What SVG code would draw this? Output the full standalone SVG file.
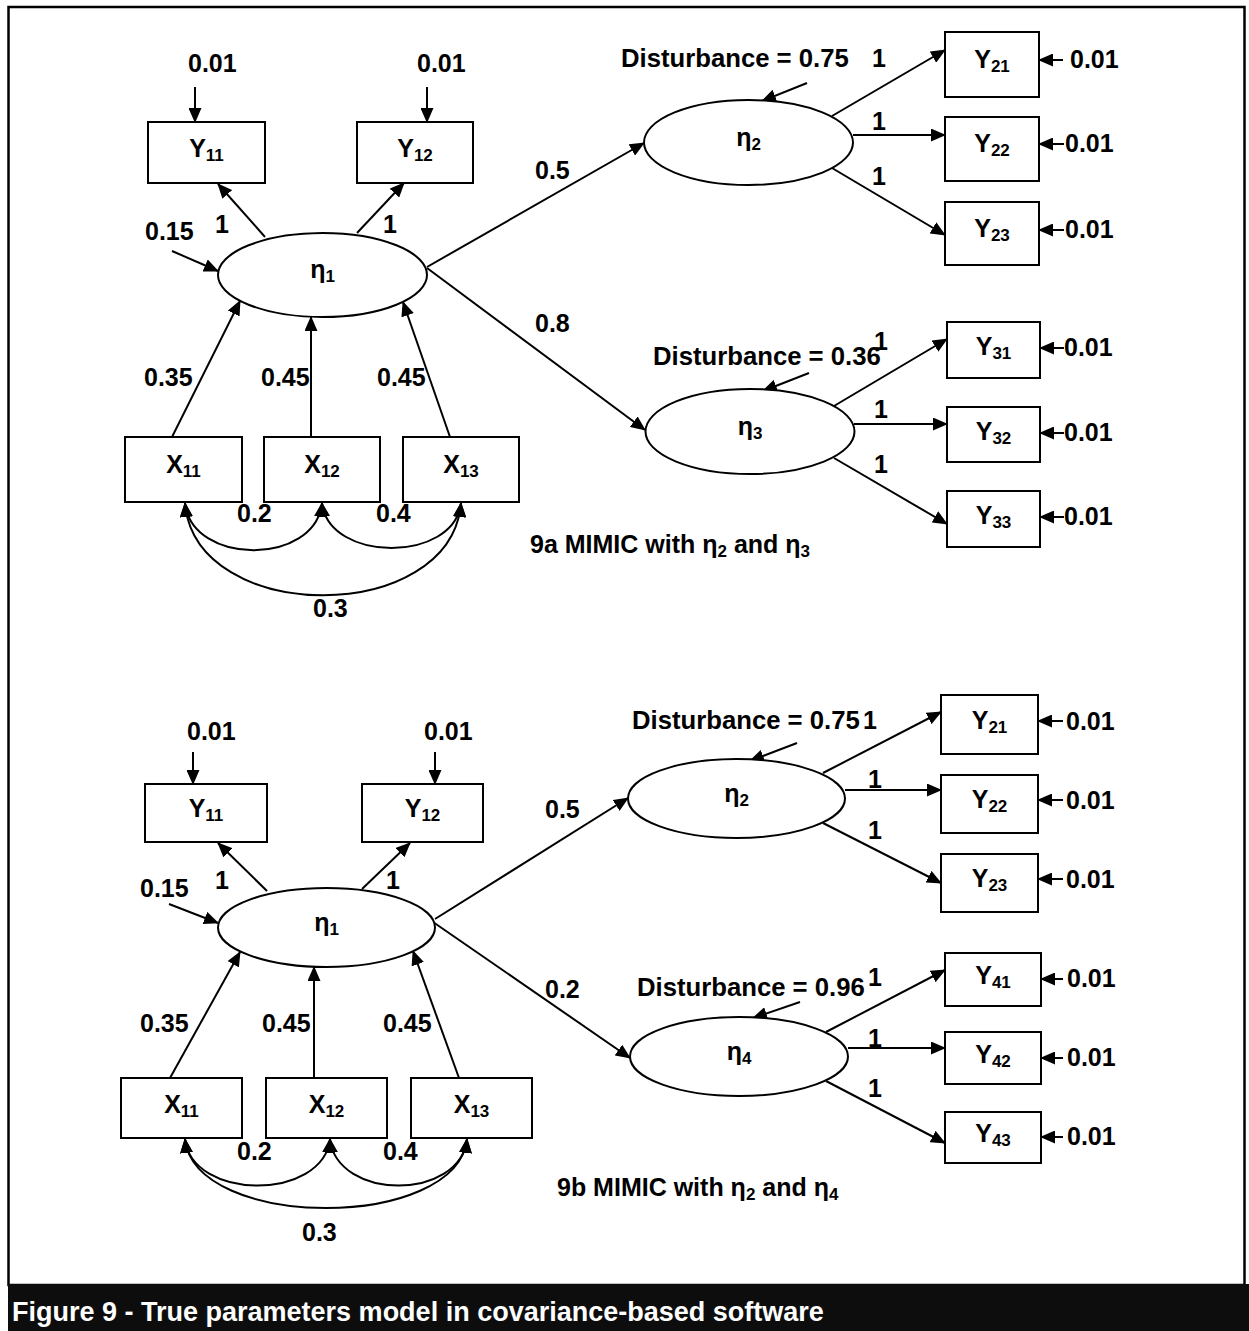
<svg xmlns="http://www.w3.org/2000/svg" width="1249" height="1331" viewBox="0 0 1249 1331">
<style>
.t{font-family:"Liberation Sans",Arial,sans-serif;font-weight:bold;font-size:25px;fill:#000}
.s{font-size:17px}
.d{font-size:25.7px}
.cap{font-family:"Liberation Sans",Arial,sans-serif;font-weight:bold;font-size:27px;fill:#fff}
.n{fill:#fff;stroke:#000;stroke-width:2}
.c{stroke:#000;stroke-width:2;fill:none;marker-end:url(#ah)}
.cc{stroke:#000;stroke-width:2;fill:none;marker-start:url(#ah);marker-end:url(#ah)}
</style>
<defs>
<marker id="ah" viewBox="0 0 15 13" refX="14" refY="6.5" markerWidth="15" markerHeight="13" orient="auto-start-reverse" markerUnits="userSpaceOnUse"><path d="M0,0 L15,6.5 L0,13 z" fill="#000"/></marker>
</defs>
<rect x="0" y="0" width="1249" height="1331" fill="#fff"/>
<rect x="8.5" y="7" width="1236" height="1278" fill="none" stroke="#000" stroke-width="2.5"/>
<rect x="8" y="1284" width="1241" height="47" fill="#0d0d0d"/>
<text class="cap" x="12" y="1321">Figure 9 - True parameters model in covariance-based software</text>

<g id="connectors">
<!-- 9a -->
<line class="c" x1="195" y1="87" x2="195" y2="122"/>
<line class="c" x1="427" y1="87" x2="427" y2="122"/>
<line class="c" x1="172" y1="251" x2="218" y2="271"/>
<line class="c" x1="265" y1="237" x2="218" y2="184"/>
<line class="c" x1="357" y1="233" x2="404" y2="183"/>
<line class="c" x1="427" y1="267" x2="644" y2="143"/>
<line class="c" x1="427" y1="268" x2="645" y2="430"/>
<line class="c" x1="807" y1="83" x2="762" y2="101"/>
<line class="c" x1="832" y1="116" x2="945" y2="50"/>
<line class="c" x1="853" y1="135" x2="945" y2="135"/>
<line class="c" x1="832" y1="168" x2="945" y2="235"/>
<line class="c" x1="1063" y1="60" x2="1039" y2="60"/>
<line class="c" x1="1064" y1="144" x2="1039" y2="144"/>
<line class="c" x1="1064" y1="230" x2="1039" y2="230"/>
<line class="c" x1="809" y1="373" x2="763" y2="391"/>
<line class="c" x1="834" y1="406" x2="947" y2="339"/>
<line class="c" x1="854" y1="424" x2="947" y2="424"/>
<line class="c" x1="834" y1="458" x2="947" y2="524"/>
<line class="c" x1="1064" y1="348" x2="1040" y2="348"/>
<line class="c" x1="1064" y1="433" x2="1040" y2="433"/>
<line class="c" x1="1064" y1="517" x2="1040" y2="517"/>
<line class="c" x1="172" y1="437" x2="240" y2="301"/>
<line class="c" x1="311" y1="437" x2="311" y2="317"/>
<line class="c" x1="450" y1="437" x2="403" y2="302"/>
<path class="cc" d="M185,503 C192,566 315,566 322,503"/>
<path class="cc" d="M322,503 C329,563 454,563 461,503"/>
<path class="cc" d="M185,503 C195,626 451,626 461,503"/>
<!-- 9b -->
<line class="c" x1="193" y1="752" x2="193" y2="784"/>
<line class="c" x1="435" y1="752" x2="435" y2="784"/>
<line class="c" x1="169" y1="904" x2="218" y2="923"/>
<line class="c" x1="267" y1="891" x2="218" y2="843"/>
<line class="c" x1="362" y1="889" x2="410" y2="843"/>
<line class="c" x1="435" y1="919" x2="628" y2="798"/>
<line class="c" x1="433" y1="922" x2="630" y2="1058"/>
<line class="c" x1="797" y1="743" x2="750" y2="761"/>
<line class="c" x1="823" y1="773" x2="941" y2="712"/>
<line class="c" x1="845" y1="790" x2="941" y2="790"/>
<line class="c" x1="823" y1="823" x2="941" y2="883"/>
<line class="c" x1="1063" y1="721" x2="1038" y2="721"/>
<line class="c" x1="1063" y1="800" x2="1038" y2="800"/>
<line class="c" x1="1063" y1="879" x2="1038" y2="879"/>
<line class="c" x1="800" y1="1002" x2="753" y2="1018"/>
<line class="c" x1="826" y1="1032" x2="945" y2="970"/>
<line class="c" x1="848" y1="1048" x2="945" y2="1048"/>
<line class="c" x1="826" y1="1081" x2="945" y2="1143"/>
<line class="c" x1="1063" y1="979" x2="1041" y2="979"/>
<line class="c" x1="1063" y1="1058" x2="1041" y2="1058"/>
<line class="c" x1="1063" y1="1137" x2="1041" y2="1137"/>
<line class="c" x1="170" y1="1078" x2="240" y2="952"/>
<line class="c" x1="314" y1="1078" x2="314" y2="967"/>
<line class="c" x1="459" y1="1078" x2="413" y2="951"/>
<path class="cc" d="M185,1139 C192,1201 323,1201 330,1139"/>
<path class="cc" d="M330,1139 C337,1201 460,1201 467,1139"/>
<path class="cc" d="M185,1139 C195,1231 457,1231 467,1139"/>
</g>

<g id="labels" class="t">
<!-- 9a -->
<text x="188" y="72">0.01</text>
<text x="417" y="72">0.01</text>
<text x="145" y="240">0.15</text>
<text x="215" y="233">1</text>
<text x="383" y="233">1</text>
<text x="535" y="179">0.5</text>
<text x="535" y="332">0.8</text>
<text class="d" x="621" y="67">Disturbance = 0.75</text>
<text x="872" y="67">1</text>
<text x="872" y="130">1</text>
<text x="872" y="185">1</text>
<text x="1070" y="68">0.01</text>
<text x="1065" y="152">0.01</text>
<text x="1065" y="238">0.01</text>
<text class="d" x="653" y="365">Disturbance = 0.36</text>
<text x="874" y="350">1</text>
<text x="874" y="418">1</text>
<text x="874" y="473">1</text>
<text x="1064" y="356">0.01</text>
<text x="1064" y="441">0.01</text>
<text x="1064" y="525">0.01</text>
<text x="144" y="386">0.35</text>
<text x="261" y="386">0.45</text>
<text x="377" y="386">0.45</text>
<text x="237" y="522">0.2</text>
<text x="376" y="522">0.4</text>
<text x="313" y="617">0.3</text>
<text x="530" y="553">9a MIMIC with η<tspan class="s" dy="4">2</tspan><tspan dy="-4"> and η</tspan><tspan class="s" dy="4">3</tspan></text>
<!-- 9b -->
<text x="187" y="740">0.01</text>
<text x="424" y="740">0.01</text>
<text x="140" y="897">0.15</text>
<text x="215" y="889">1</text>
<text x="386" y="889">1</text>
<text x="545" y="818">0.5</text>
<text x="545" y="998">0.2</text>
<text class="d" x="632" y="729">Disturbance = 0.75</text>
<text x="863" y="729">1</text>
<text x="868" y="788">1</text>
<text x="868" y="839">1</text>
<text x="1066" y="730">0.01</text>
<text x="1066" y="809">0.01</text>
<text x="1066" y="888">0.01</text>
<text class="d" x="637" y="996">Disturbance = 0.96</text>
<text x="868" y="986">1</text>
<text x="868" y="1047">1</text>
<text x="868" y="1097">1</text>
<text x="1067" y="987">0.01</text>
<text x="1067" y="1066">0.01</text>
<text x="1067" y="1145">0.01</text>
<text x="140" y="1032">0.35</text>
<text x="262" y="1032">0.45</text>
<text x="383" y="1032">0.45</text>
<text x="237" y="1160">0.2</text>
<text x="383" y="1160">0.4</text>
<text x="302" y="1241">0.3</text>
<text x="557" y="1196">9b MIMIC with η<tspan class="s" dy="4">2</tspan><tspan dy="-4"> and η</tspan><tspan class="s" dy="4">4</tspan></text>
</g>

<!-- 9a nodes -->
<g id="a_y11"><rect class="n" x="148" y="122" width="117" height="61"/><text class="t" x="206.5" y="157" text-anchor="middle">Y<tspan class="s" dy="4">11</tspan></text></g>
<g id="a_y12"><rect class="n" x="357" y="122" width="116" height="61"/><text class="t" x="415" y="157" text-anchor="middle">Y<tspan class="s" dy="4">12</tspan></text></g>
<g id="a_eta1"><ellipse class="n" cx="322.5" cy="275" rx="104.5" ry="42"/><text class="t" x="322.5" y="278" text-anchor="middle">η<tspan class="s" dy="4">1</tspan></text></g>
<g id="a_eta2"><ellipse class="n" cx="748.5" cy="142.5" rx="104.5" ry="42.5"/><text class="t" x="748.5" y="146" text-anchor="middle">η<tspan class="s" dy="4">2</tspan></text></g>
<g id="a_eta3"><ellipse class="n" cx="750" cy="431.5" rx="104.5" ry="42.5"/><text class="t" x="750" y="435" text-anchor="middle">η<tspan class="s" dy="4">3</tspan></text></g>
<g id="a_y21"><rect class="n" x="945" y="32" width="94" height="65"/><text class="t" x="992" y="68" text-anchor="middle">Y<tspan class="s" dy="4">21</tspan></text></g>
<g id="a_y22"><rect class="n" x="945" y="117" width="94" height="64"/><text class="t" x="992" y="152" text-anchor="middle">Y<tspan class="s" dy="4">22</tspan></text></g>
<g id="a_y23"><rect class="n" x="945" y="202" width="94" height="63"/><text class="t" x="992" y="237" text-anchor="middle">Y<tspan class="s" dy="4">23</tspan></text></g>
<g id="a_y31"><rect class="n" x="947" y="322" width="93" height="56"/><text class="t" x="993.5" y="355" text-anchor="middle">Y<tspan class="s" dy="4">31</tspan></text></g>
<g id="a_y32"><rect class="n" x="947" y="407" width="93" height="55"/><text class="t" x="993.5" y="440" text-anchor="middle">Y<tspan class="s" dy="4">32</tspan></text></g>
<g id="a_y33"><rect class="n" x="947" y="491" width="93" height="56"/><text class="t" x="993.5" y="524" text-anchor="middle">Y<tspan class="s" dy="4">33</tspan></text></g>
<g id="a_x11"><rect class="n" x="125" y="437" width="117" height="65"/><text class="t" x="183.5" y="473" text-anchor="middle">X<tspan class="s" dy="4">11</tspan></text></g>
<g id="a_x12"><rect class="n" x="264" y="437" width="116" height="65"/><text class="t" x="322" y="473" text-anchor="middle">X<tspan class="s" dy="4">12</tspan></text></g>
<g id="a_x13"><rect class="n" x="403" y="437" width="116" height="65"/><text class="t" x="461" y="473" text-anchor="middle">X<tspan class="s" dy="4">13</tspan></text></g>

<!-- 9b nodes -->
<g id="b_y11"><rect class="n" x="145" y="784" width="122" height="58"/><text class="t" x="206" y="817" text-anchor="middle">Y<tspan class="s" dy="4">11</tspan></text></g>
<g id="b_y12"><rect class="n" x="362" y="784" width="121" height="58"/><text class="t" x="422.5" y="817" text-anchor="middle">Y<tspan class="s" dy="4">12</tspan></text></g>
<g id="b_eta1"><ellipse class="n" cx="326.5" cy="927.5" rx="108.5" ry="39.5"/><text class="t" x="326.5" y="931" text-anchor="middle">η<tspan class="s" dy="4">1</tspan></text></g>
<g id="b_eta2"><ellipse class="n" cx="736.5" cy="798.5" rx="108.5" ry="39.5"/><text class="t" x="736.5" y="802" text-anchor="middle">η<tspan class="s" dy="4">2</tspan></text></g>
<g id="b_eta4"><ellipse class="n" cx="739" cy="1056.5" rx="109" ry="39.5"/><text class="t" x="739" y="1060" text-anchor="middle">η<tspan class="s" dy="4">4</tspan></text></g>
<g id="b_y21"><rect class="n" x="941" y="695" width="97" height="59"/><text class="t" x="989.5" y="729" text-anchor="middle">Y<tspan class="s" dy="4">21</tspan></text></g>
<g id="b_y22"><rect class="n" x="941" y="775" width="97" height="58"/><text class="t" x="989.5" y="808" text-anchor="middle">Y<tspan class="s" dy="4">22</tspan></text></g>
<g id="b_y23"><rect class="n" x="941" y="854" width="97" height="58"/><text class="t" x="989.5" y="887" text-anchor="middle">Y<tspan class="s" dy="4">23</tspan></text></g>
<g id="b_y41"><rect class="n" x="945" y="953" width="96" height="53"/><text class="t" x="993" y="984" text-anchor="middle">Y<tspan class="s" dy="4">41</tspan></text></g>
<g id="b_y42"><rect class="n" x="945" y="1032" width="96" height="52"/><text class="t" x="993" y="1063" text-anchor="middle">Y<tspan class="s" dy="4">42</tspan></text></g>
<g id="b_y43"><rect class="n" x="945" y="1112" width="96" height="51"/><text class="t" x="993" y="1142" text-anchor="middle">Y<tspan class="s" dy="4">43</tspan></text></g>
<g id="b_x11"><rect class="n" x="121" y="1078" width="121" height="60"/><text class="t" x="181.5" y="1113" text-anchor="middle">X<tspan class="s" dy="4">11</tspan></text></g>
<g id="b_x12"><rect class="n" x="266" y="1078" width="121" height="60"/><text class="t" x="326.5" y="1113" text-anchor="middle">X<tspan class="s" dy="4">12</tspan></text></g>
<g id="b_x13"><rect class="n" x="411" y="1078" width="121" height="60"/><text class="t" x="471.5" y="1113" text-anchor="middle">X<tspan class="s" dy="4">13</tspan></text></g>
</svg>
